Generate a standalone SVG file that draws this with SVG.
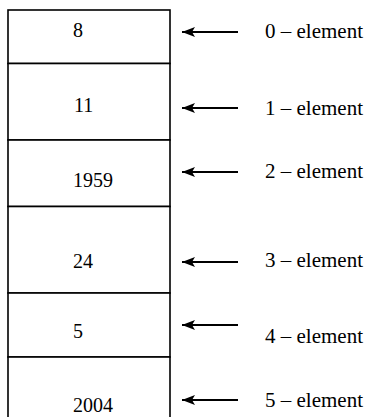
<svg xmlns="http://www.w3.org/2000/svg" width="368" height="417" viewBox="0 0 368 417">
  <style>
    .cell { fill: #fff; stroke: #000; stroke-width: 1.6; }
    .val { font-family: "Liberation Serif", "Times New Roman", serif; font-size: 20px; fill: #000; }
    .lbl { font-family: "Liberation Serif", "Times New Roman", serif; font-size: 21px; fill: #000; text-anchor: end; }
    .ptr { stroke: #000; stroke-width: 2; fill: none; marker-start: url(#head); }
  </style>
  <defs>
    <marker id="head" viewBox="0 0 13 10" refX="0" refY="5" markerWidth="13" markerHeight="10" markerUnits="userSpaceOnUse" orient="auto">
      <path d="M0,5 L13,0 L10,5 L13,10 Z" fill="#000"/>
    </marker>
  </defs>
  <rect width="368" height="417" fill="#fff"/>

  <!-- array cells -->
  <g id="cell0"><rect class="cell" x="8" y="10" width="162" height="53.5"/><text class="val" x="73" y="37">8</text></g>
  <g id="cell1"><rect class="cell" x="8" y="63.5" width="162" height="76.5"/><text class="val" x="74" y="112">11</text></g>
  <g id="cell2"><rect class="cell" x="8" y="140" width="162" height="66.5"/><text class="val" x="73" y="187">1959</text></g>
  <g id="cell3"><rect class="cell" x="8" y="206.5" width="162" height="86.5"/><text class="val" x="73" y="268">24</text></g>
  <g id="cell4"><rect class="cell" x="8" y="293" width="162" height="64"/><text class="val" x="73" y="338">5</text></g>
  <g id="cell5"><rect class="cell" x="8" y="357" width="162" height="70"/><text class="val" x="73" y="412">2004</text></g>

  <!-- index pointers -->
  <g id="pointers">
    <path class="ptr" d="M182,32 H238"/>
    <path class="ptr" d="M182,108 H238"/>
    <path class="ptr" d="M182,172 H238"/>
    <path class="ptr" d="M182,262 H238"/>
    <path class="ptr" d="M182,325 H238"/>
    <path class="ptr" d="M182,400 H238"/>
  </g>

  <!-- index labels -->
  <g id="labels">
    <text class="lbl" x="363" y="38">0 – element</text>
    <text class="lbl" x="363" y="115">1 – element</text>
    <text class="lbl" x="363" y="178">2 – element</text>
    <text class="lbl" x="363" y="267">3 – element</text>
    <text class="lbl" x="363" y="343">4 – element</text>
    <text class="lbl" x="363" y="407">5 – element</text>
  </g>
</svg>
